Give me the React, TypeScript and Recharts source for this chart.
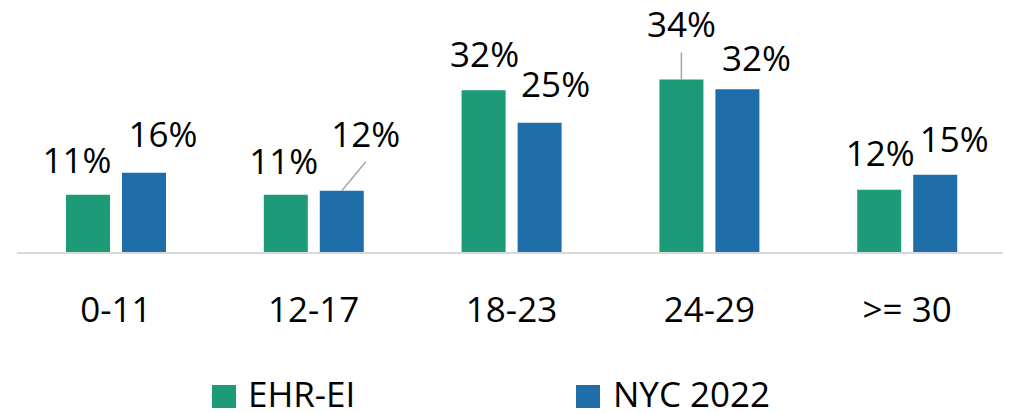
import { BarChart, Bar, XAxis, YAxis, Legend, LabelList } from 'recharts'

const CATEGORIES = ['0-11', '12-17', '18-23', '24-29', '>= 30']
const EHR_EI = [11.3, 11.3, 31.6, 33.7, 12.3]
const NYC_2022 = [15.6, 12.1, 25.3, 31.8, 15.2]
const SERIES_NAMES = ['EHR-EI', 'NYC 2022']

const GREEN = '#1D9A78'
const BLUE = '#1F6EA9'
const FONT = '"Open Sans", sans-serif'

type Nudge = { dx: number; gap: number; leader?: { dx: number; dy: number } }

// hand-placed label offsets, like the moved labels in the original
const GREEN_NUDGE: Nudge[] = [
  { dx: -11, gap: 22 },
  { dx: -2, gap: 21 },
  { dx: 1, gap: 23 },
  { dx: 0, gap: 42, leader: { dx: 0, dy: -27 } },
  { dx: 1, gap: 24 },
]
const BLUE_NUDGE: Nudge[] = [
  { dx: 19, gap: 26 },
  { dx: 24, gap: 44, leader: { dx: 24, dy: -29 } },
  { dx: 16, gap: 26 },
  { dx: 19, gap: 18 },
  { dx: 19, gap: 23 },
]

const data = CATEGORIES.map((group, i) => ({ group, ehr: EHR_EI[i], nyc: NYC_2022[i] }))

const makeLabel = (nudges: Nudge[]) => (props: any) => {
  const x = Number(props.x)
  const y = Number(props.y)
  const w = Number(props.width)
  const n = nudges[props.index] ?? { dx: 0, gap: 22 }
  const cx = x + w / 2
  return (
    <g>
      {n.leader && (
        <line x1={cx} y1={y} x2={cx + n.leader.dx} y2={y + n.leader.dy} stroke="#a6a6a6" strokeWidth={1.5} />
      )}
      <text x={cx + n.dx} y={y - n.gap} textAnchor="middle" fontSize={35} fill="#000" fontFamily={FONT}>
        {Math.round(Number(props.value))}%
      </text>
    </g>
  )
}

const CategoryTick = (props: any) => {
  const { x, y, payload } = props
  return (
    <text x={x} y={Number(y) + 69} textAnchor="middle" fontSize={35} fill="#000" fontFamily={FONT}>
      {payload.value}
    </text>
  )
}

const renderLegend = () => (
  <svg width={1003} height={40} style={{ display: 'block' }}>
    <rect x={204} y={12} width={24} height={23} fill={GREEN} />
    <text x={240} y={34} fontSize={35} fill="#000" fontFamily={FONT}>{SERIES_NAMES[0]}</text>
    <rect x={568} y={12} width={24} height={23} fill={BLUE} />
    <text x={605} y={34} fontSize={35} fill="#000" fontFamily={FONT}>{SERIES_NAMES[1]}</text>
  </svg>
)

export default function App() {
  return (
    <div style={{ width: 1003, height: 405, fontFamily: FONT }}>
      <BarChart
        width={1003}
        height={405}
        data={data}
        margin={{ top: 39, right: 5, bottom: 0, left: 9 }}
        barSize={44}
        barGap={12}
      >
        <XAxis
          dataKey="group"
          height={120}
          tickLine={false}
          tickSize={0}
          tickMargin={0}
          axisLine={{ stroke: '#d9d9d9', strokeWidth: 2 }}
          tick={<CategoryTick />}
          interval={0}
        />
        <YAxis hide domain={[0, 40]} />
        <Legend
          content={renderLegend}
          verticalAlign="bottom"
          wrapperStyle={{ left: 0, bottom: 0, width: 1003, height: 40 }}
        />
        <Bar dataKey="ehr" name={SERIES_NAMES[0]} fill={GREEN} isAnimationActive={false}>
          <LabelList dataKey="ehr" content={makeLabel(GREEN_NUDGE)} />
        </Bar>
        <Bar dataKey="nyc" name={SERIES_NAMES[1]} fill={BLUE} isAnimationActive={false}>
          <LabelList dataKey="nyc" content={makeLabel(BLUE_NUDGE)} />
        </Bar>
      </BarChart>
    </div>
  )
}
